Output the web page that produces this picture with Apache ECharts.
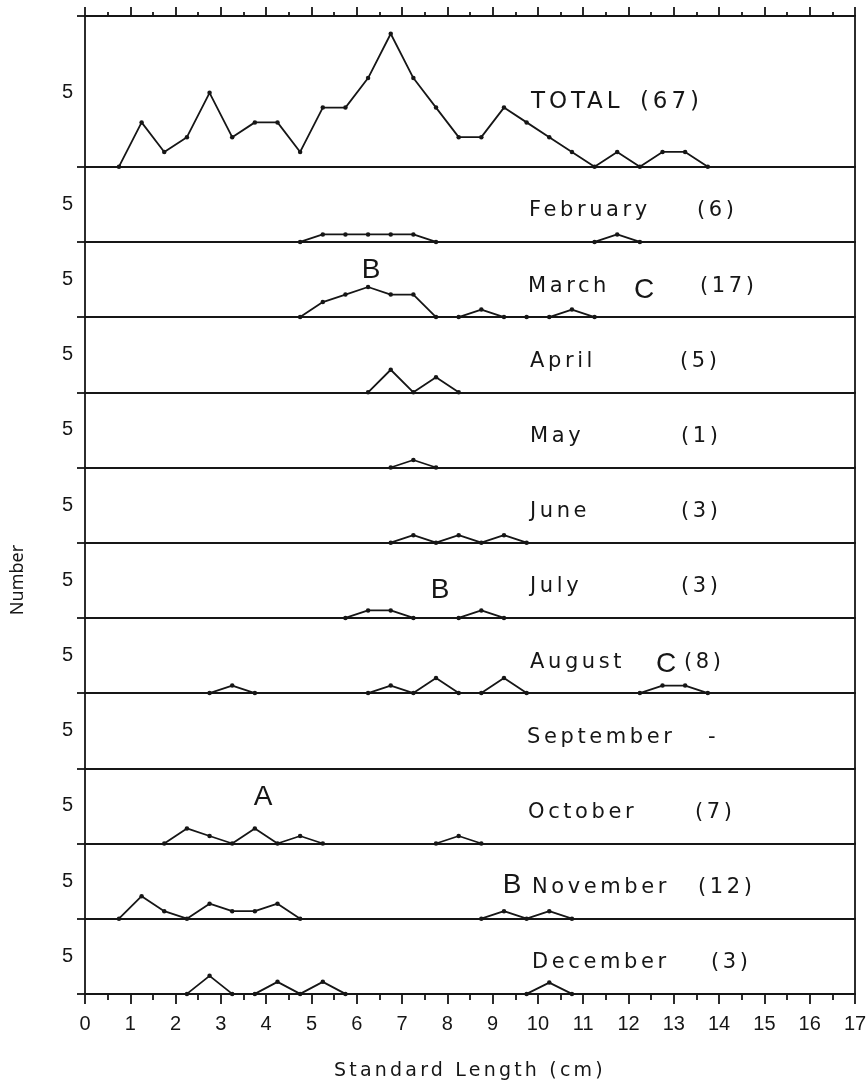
<!DOCTYPE html>
<html>
<head>
<meta charset="utf-8">
<title>Standard Length by month</title>
<script src="https://cdn.jsdelivr.net/npm/echarts@6/dist/echarts.min.js"></script>
<style>
  html, body { margin: 0; padding: 0; background: #fff; }
  #chart { width: 867px; height: 1091px; }
</style>
</head>
<body>
<div id="chart"></div>
<script>
// ---------------------------------------------------------------
// Data: length-frequency counts per 0.5 cm class (class midpoints)
// null = no point plotted for that class
// ---------------------------------------------------------------
const _ = null;
const classMidpoints = [0.75, 1.25, 1.75, 2.25, 2.75, 3.25, 3.75, 4.25, 4.75, 5.25, 5.75, 6.25, 6.75, 7.25,
                        7.75, 8.25, 8.75, 9.25, 9.75, 10.25, 10.75, 11.25, 11.75, 12.25, 12.75, 13.25, 13.75];

const totalNumbers = [0, 3, 1, 2, 5, 2, 3, 3, 1, 4, 4, 6, 9, 6, 4, 2, 2, 4, 3, 2, 1, 0, 1, 0, 1, 1, 0];
const februaryNumbers = [_, _, _, _, _, _, _, _, 0, 1, 1, 1, 1, 1, 0, _, _, _, _, _, _, 0, 1, 0, _, _, _];
const marchNumbers    = [_, _, _, _, _, _, _, _, 0, 2, 3, 4, 3, 3, 0, 0, 1, 0, 0, 0, 1, 0, _, _, _, _, _];
const aprilNumbers    = [_, _, _, _, _, _, _, _, _, _, _, 0, 3, 0, 2, 0, _, _, _, _, _, _, _, _, _, _, _];
const mayNumbers      = [_, _, _, _, _, _, _, _, _, _, _, _, 0, 1, 0, _, _, _, _, _, _, _, _, _, _, _, _];
const juneNumbers     = [_, _, _, _, _, _, _, _, _, _, _, _, 0, 1, 0, 1, 0, 1, 0, _, _, _, _, _, _, _, _];
const julyNumbers     = [_, _, _, _, _, _, _, _, _, _, 0, 1, 1, 0, _, 0, 1, 0, _, _, _, _, _, _, _, _, _];
const augustNumbers   = [_, _, _, _, 0, 1, 0, _, _, _, _, 0, 1, 0, 2, 0, 0, 2, 0, _, _, _, _, 0, 1, 1, 0];
const septemberNumbers = [_, _, _, _, _, _, _, _, _, _, _, _, _, _, _, _, _, _, _, _, _, _, _, _, _, _, _];
const octoberNumbers  = [_, _, 0, 2, 1, 0, 2, 0, 1, 0, _, _, _, _, 0, 1, 0, _, _, _, _, _, _, _, _, _, _];
const novemberNumbers = [0, 3, 1, 0, 2, 1, 1, 2, 0, _, _, _, _, _, _, _, 0, 1, 0, 1, 0, _, _, _, _, _, _];
const decemberNumbers = [_, _, _, 0, 2.4, 0, 0, 1.6, 0, 1.6, 0, _, _, _, _, _, _, _, 0, 1.5, 0, _, _, _, _, _, _];

const panelNames  = ['TOTAL', 'February', 'March', 'April', 'May', 'June', 'July',
                     'August', 'September', 'October', 'November', 'December'];
const panelCounts = ['(67)', '(6)', '(17)', '(5)', '(1)', '(3)', '(3)', '(8)', '-', '(7)', '(12)', '(3)'];
const panelSeries = [totalNumbers, februaryNumbers, marchNumbers, aprilNumbers, mayNumbers, juneNumbers,
                     julyNumbers, augustNumbers, septemberNumbers, octoberNumbers, novemberNumbers, decemberNumbers];

const xTickValues = [0, 1, 2, 3, 4, 5, 6, 7, 8, 9, 10, 11, 12, 13, 14, 15, 16, 17];
const yTickValues = [5];

// ---------------------------------------------------------------
// Layout (pixels)
// ---------------------------------------------------------------
const LEFT = 85, RIGHT = 855, TOP = 16;
const TOTAL_H = 150.7, MONTH_H = 75.2;
const TOTAL_MAX = 10.2, MONTH_MAX = 10;
const INK = '#161616';
const LINE_W = 1.8;
const LABEL_FONT = '"DejaVu Sans"';
const DIGIT_FONT = '"Liberation Sans"';

// left x of panel name and of its count
const labelX = [[531, 640], [529, 697], [528, 700], [530, 680], [530, 681], [530, 681],
                [530, 681], [530, 684], [527, 708], [528, 695], [532, 698], [532, 711]];
// cohort letters: [text, x, y]
const cohortLetters = [['B', 371, 270], ['C', 644, 290], ['B', 440, 590],
                       ['C', 666, 664], ['A', 263, 797], ['B', 512, 885]];

// The lettering is widely tracked; apply tracking to the spaced family only.
['fillText', 'strokeText'].forEach(function (fn) {
  const orig = CanvasRenderingContext2D.prototype[fn];
  CanvasRenderingContext2D.prototype[fn] = function (text, x, y, maxW) {
    const m = /(\d+(?:\.\d+)?)px/.exec(this.font || '');
    const spaced = (this.font || '').indexOf('DejaVu Sans') >= 0 && m;
    this.letterSpacing = spaced ? (parseFloat(m[1]) * 0.17).toFixed(1) + 'px' : '0px';
    return maxW === undefined ? orig.call(this, text, x, y) : orig.call(this, text, x, y, maxW);
  };
});

function panelTop(i) { return i === 0 ? TOP : TOP + TOTAL_H + (i - 1) * MONTH_H; }
function panelHeight(i) { return i === 0 ? TOTAL_H : MONTH_H; }
function baseline(i) { return panelTop(i) + panelHeight(i); }

const lineStyle = { color: INK, width: LINE_W };
const grids = [], xAxes = [], yAxes = [], series = [], graphics = [];
const n = panelNames.length;

panelNames.forEach(function (name, i) {
  const last = i === n - 1;
  const yMax = i === 0 ? TOTAL_MAX : MONTH_MAX;
  grids.push({ left: LEFT, top: panelTop(i), width: RIGHT - LEFT, height: panelHeight(i),
               containLabel: false, outerBoundsMode: 'none' });

  xAxes.push({
    gridIndex: i, type: 'value', min: 0, max: 17, interval: 1, position: 'bottom',
    axisLine: { show: true, onZero: false, lineStyle: lineStyle },
    axisTick: { show: last, length: 10, lineStyle: lineStyle },
    minorTick: { show: last, splitNumber: 2, length: 6, lineStyle: lineStyle },
    axisLabel: { show: last, customValues: xTickValues, showMinLabel: true, showMaxLabel: true,
                 color: INK, fontFamily: DIGIT_FONT, fontSize: 20, margin: 21 },
    splitLine: { show: false }, minorSplitLine: { show: false },
    name: last ? 'Standard Length (cm)' : '', nameLocation: 'middle', nameGap: 68,
    nameTextStyle: { color: INK, fontFamily: LABEL_FONT, fontSize: 19 }
  });

  yAxes.push({
    gridIndex: i, type: 'value', min: 0, max: yMax, position: 'left',
    axisLine: { show: true, onZero: false, lineStyle: lineStyle },
    axisTick: { show: true, customValues: i === 0 ? [0, yMax] : [0], length: 8, lineStyle: lineStyle },
    axisLabel: { show: true, customValues: yTickValues, color: INK, fontFamily: DIGIT_FONT,
                 fontSize: 20, margin: 12 },
    splitLine: { show: false }
  });

  series.push({
    type: 'line', name: name, xAxisIndex: i, yAxisIndex: i,
    data: classMidpoints.map(function (x, k) {
      const v = panelSeries[i][k];
      return [x, v === null ? '-' : v];
    }),
    connectNulls: false, symbol: 'circle', symbolSize: 4.5, showAllSymbol: true,
    lineStyle: { color: INK, width: LINE_W }, itemStyle: { color: INK },
    emphasis: { disabled: true }, animation: false, z: 3
  });

  const textY = i === 0 ? baseline(i) - 65 : baseline(i) - 31;
  const fs = i === 0 ? 23 : 21;
  graphics.push({ type: 'text', x: labelX[i][0], y: textY,
    style: { text: name, fill: INK, font: fs + 'px ' + LABEL_FONT, textAlign: 'left', textVerticalAlign: 'middle' } });
  graphics.push({ type: 'text', x: labelX[i][1], y: textY,
    style: { text: panelCounts[i], fill: INK, font: fs + 'px ' + LABEL_FONT, textAlign: 'left', textVerticalAlign: 'middle' } });
});

// right-hand frame of each panel
panelNames.forEach(function (name, i) {
  yAxes.push({
    gridIndex: i, type: 'value', min: 0, max: i === 0 ? TOTAL_MAX : MONTH_MAX, position: 'right',
    axisLine: { show: true, onZero: false, lineStyle: lineStyle },
    axisTick: { show: false }, axisLabel: { show: false }, splitLine: { show: false }
  });
});

// upper scale along the top of the frame
xAxes.push({
  gridIndex: 0, type: 'value', min: 0, max: 17, interval: 1, position: 'top',
  axisLine: { show: true, onZero: false, lineStyle: lineStyle },
  axisTick: { show: true, length: 9, lineStyle: lineStyle },
  minorTick: { show: true, splitNumber: 2, length: 4, lineStyle: lineStyle },
  axisLabel: { show: false }, splitLine: { show: false }, minorSplitLine: { show: false }
});

cohortLetters.forEach(function (c) {
  graphics.push({ type: 'text', x: c[1], y: c[2],
    style: { text: c[0], fill: INK, font: '28px ' + DIGIT_FONT, textAlign: 'center', textVerticalAlign: 'middle' } });
});

graphics.push({ type: 'text', x: 18, y: 580, rotation: Math.PI / 2,
  style: { text: 'Number', fill: INK, font: '18px "Noto Sans"', textAlign: 'center', textVerticalAlign: 'middle' } });

const chart = echarts.init(document.getElementById('chart'), null, { renderer: 'canvas' });
chart.setOption({
  backgroundColor: '#ffffff',
  animation: false,
  grid: grids,
  xAxis: xAxes,
  yAxis: yAxes,
  series: series,
  graphic: graphics
});
</script>
</body>
</html>
